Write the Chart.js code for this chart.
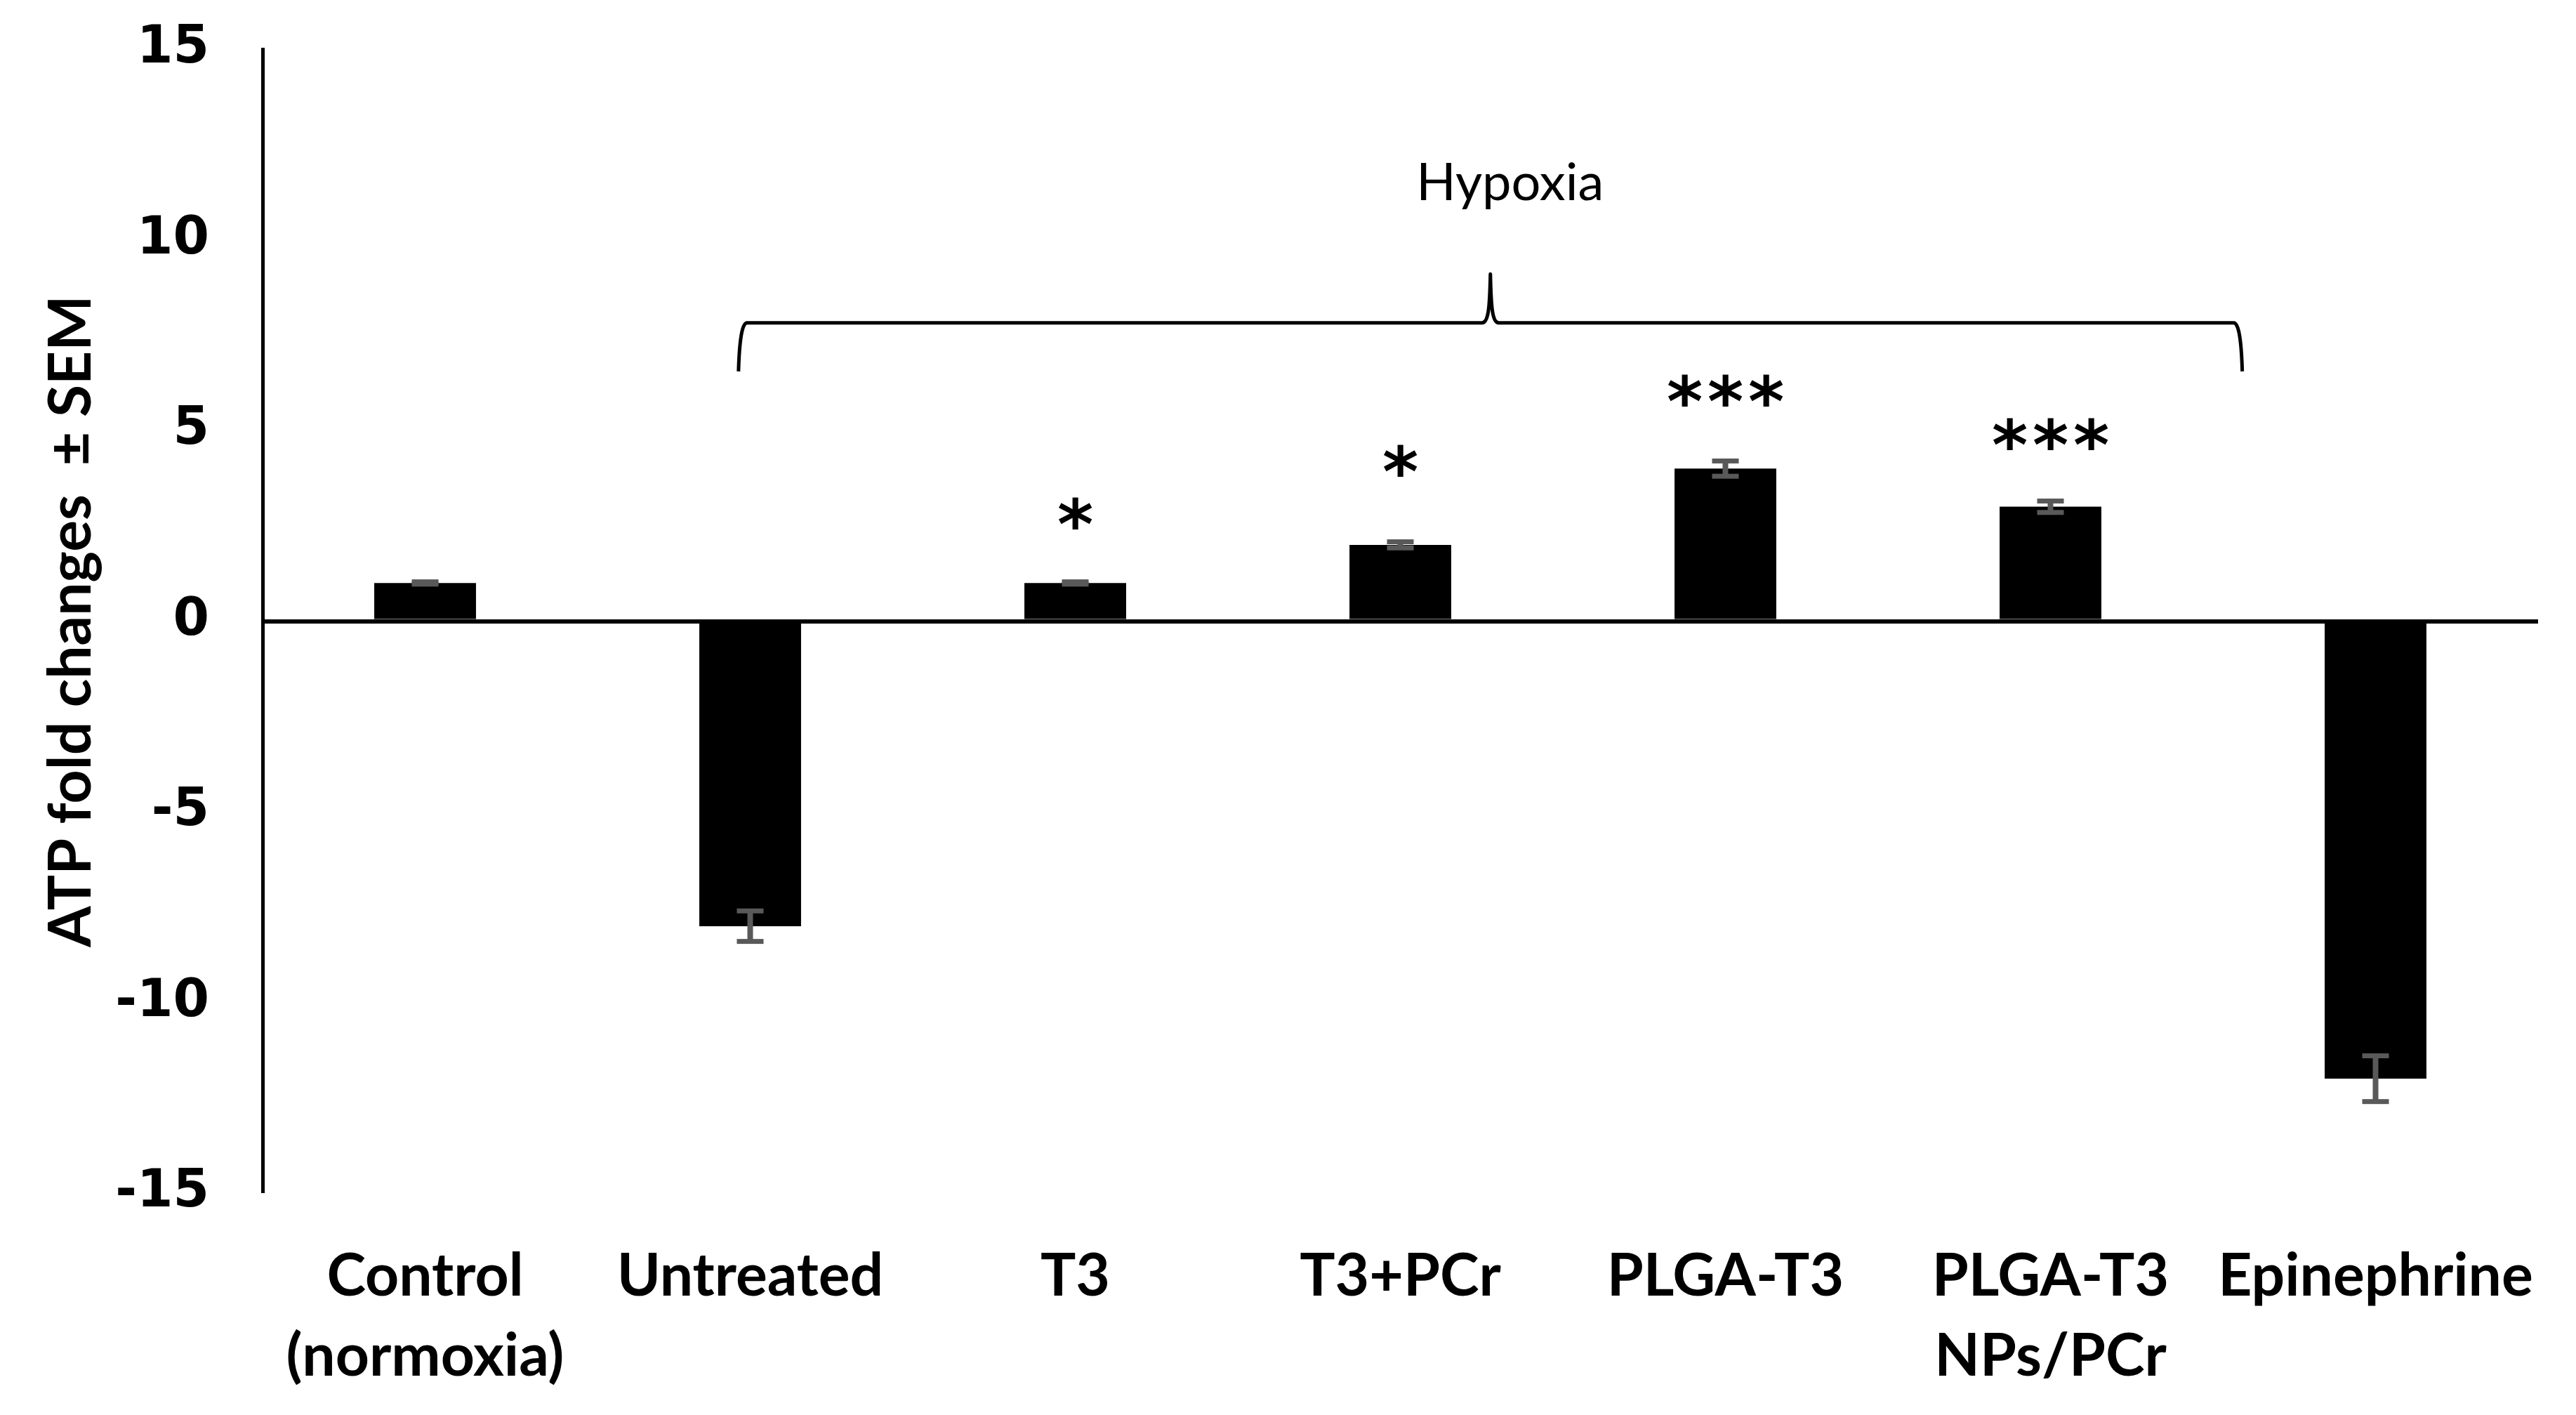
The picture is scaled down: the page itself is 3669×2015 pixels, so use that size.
<!DOCTYPE html>
<html>
<head>
  <meta charset="utf-8">
  <title>ATP fold changes</title>
  <script src="https://cdn.jsdelivr.net/npm/chart.js"></script>
  <style>
    body {
      margin: 0;
      overflow: hidden;
      background-color: #fff;
    }
    .chart-container {
      width: 3669px;
      height: 2015px;
    }
    canvas { display: block; }
  </style>
</head>
<body>
  <div class="chart-container">
    <canvas id="chartAtp"></canvas>
  </div>

  <script>
    // Categories (multi-line labels as arrays)
    const categories = [
      ['Control', '(normoxia)'], 'Untreated', 'T3', 'T3+PCr', 'PLGA-T3', ['PLGA-T3', 'NPs/PCr'], 'Epinephrine'
    ];
    // ATP fold change and SEM
    const atpFold = [1, -8, 1, 2, 4, 3, -12];
    const atpSem = [0.03, 0.4, 0.03, 0.08, 0.2, 0.15, 0.6];
    // significance marks and the y value where each sits
    const sigMarks = ['', '', '*', '*', '***', '***', ''];
    const sigLevel = [null, null, 2.82, 4.21, 6.05, 4.9, null];
    // y axis range
    const yMin = -15, yMax = 15, yStep = 5;
    const groupLabel = 'Hypoxia';

    // Error bars, stars, the brace and its label
    const annotate = {
      id: 'annotate',
      afterDatasetsDraw(chart) {
        const { ctx, scales: { x, y } } = chart;
        const bars = chart.getDatasetMeta(0).data;
        ctx.save();

        // error bars (grey, drawn over the bars)
        ctx.fillStyle = '#595959';
        atpFold.forEach((v, i) => {
          const cx = bars[i].x;
          const hi = y.getPixelForValue(v + atpSem[i]);
          const lo = y.getPixelForValue(v - atpSem[i]);
          ctx.fillRect(cx - 4, hi, 8, lo - hi);
          ctx.fillRect(cx - 19, hi - 3.5, 38, 7);
          ctx.fillRect(cx - 19, lo - 3.5, 38, 7);
        });

        // significance stars
        ctx.fillStyle = '#000';
        ctx.font = 'bold 98px "DejaVu Sans"';
        ctx.textAlign = 'center';
        ctx.textBaseline = 'alphabetic';
        const m = ctx.measureText('*');
        const shift = (m.actualBoundingBoxAscent - m.actualBoundingBoxDescent) / 2;
        sigMarks.forEach((mark, i) => {
          if (!mark) return;
          const cy = y.getPixelForValue(sigLevel[i]);
          const step = 58;
          const x0 = bars[i].x - (mark.length - 1) * step / 2;
          for (let k = 0; k < mark.length; k++) {
            ctx.fillText(mark[k], x0 + k * step, cy + shift);
          }
        });

        // curly brace over the hypoxia groups
        const xl = x.getPixelForValue(0.964);
        const xr = x.getPixelForValue(5.59);
        const xm = (xl + xr) / 2;
        const yEnd = y.getPixelForValue(6.55);
        const yBar = y.getPixelForValue(7.82);
        const yPeak = y.getPixelForValue(9.1);
        ctx.strokeStyle = '#000';
        ctx.lineWidth = 5;
        ctx.lineJoin = 'round';
        ctx.beginPath();
        ctx.moveTo(xl, yEnd);
        ctx.quadraticCurveTo(xl + 2, yBar, xl + 12, yBar);
        ctx.lineTo(xm - 12, yBar);
        ctx.bezierCurveTo(xm - 3, yBar, xm - 1, yBar - 20, xm, yPeak);
        ctx.bezierCurveTo(xm + 1, yBar - 20, xm + 3, yBar, xm + 12, yBar);
        ctx.lineTo(xr - 12, yBar);
        ctx.quadraticCurveTo(xr - 2, yBar, xr, yEnd);
        ctx.stroke();

        ctx.font = '74px Lato';
        ctx.fillText(groupLabel, xm + 28, y.getPixelForValue(11.04));
        ctx.restore();
      }
    };

    const ctxAtp = document.getElementById('chartAtp').getContext('2d');
    const chartAtp = new Chart(ctxAtp, {
      type: 'bar',
      data: {
        labels: categories,
        datasets: [{
          label: 'ATP fold changes',
          data: atpFold,
          backgroundColor: '#000',
          barPercentage: 0.313,
          categoryPercentage: 1
        }]
      },
      options: {
        responsive: true,
        maintainAspectRatio: false,
        animation: false,
        layout: { padding: { top: 70, right: 54, bottom: 0, left: 0 } },
        plugins: {
          legend: { display: false },
          tooltip: { enabled: false }
        },
        scales: {
          x: {
            grid: { display: false },
            border: { display: false },
            ticks: {
              color: '#000',
              font: { family: 'Lato', weight: 'bold', size: 84, lineHeight: 1.36 },
              padding: 54,
              maxRotation: 0,
              autoSkip: false
            },
            afterFit(scale) { scale.height = 316; }
          },
          y: {
            min: yMin,
            max: yMax,
            border: { display: true, color: '#000', width: 5 },
            grid: {
              drawTicks: false,
              color: c => c.tick && c.tick.value === 0 ? '#000' : 'rgba(0,0,0,0)',
              lineWidth: c => c.tick && c.tick.value === 0 ? 6 : 0
            },
            ticks: {
              stepSize: yStep,
              color: '#000',
              font: { family: 'DejaVu Sans', weight: 'bold', size: 74 },
              padding: 76
            },
            title: {
              display: true,
              text: 'ATP fold changes  \u00b1 SEM',
              color: '#000',
              font: { family: 'Lato', weight: 'bold', size: 84, lineHeight: 1.2 },
              padding: { top: 52, bottom: 0 }
            },
            afterFit(scale) {
              scale.width = 374;
              scale.paddingTop = 0;
              scale.paddingBottom = 0;
            }
          }
        }
      },
      plugins: [annotate]
    });
  </script>
</body>
</html>
